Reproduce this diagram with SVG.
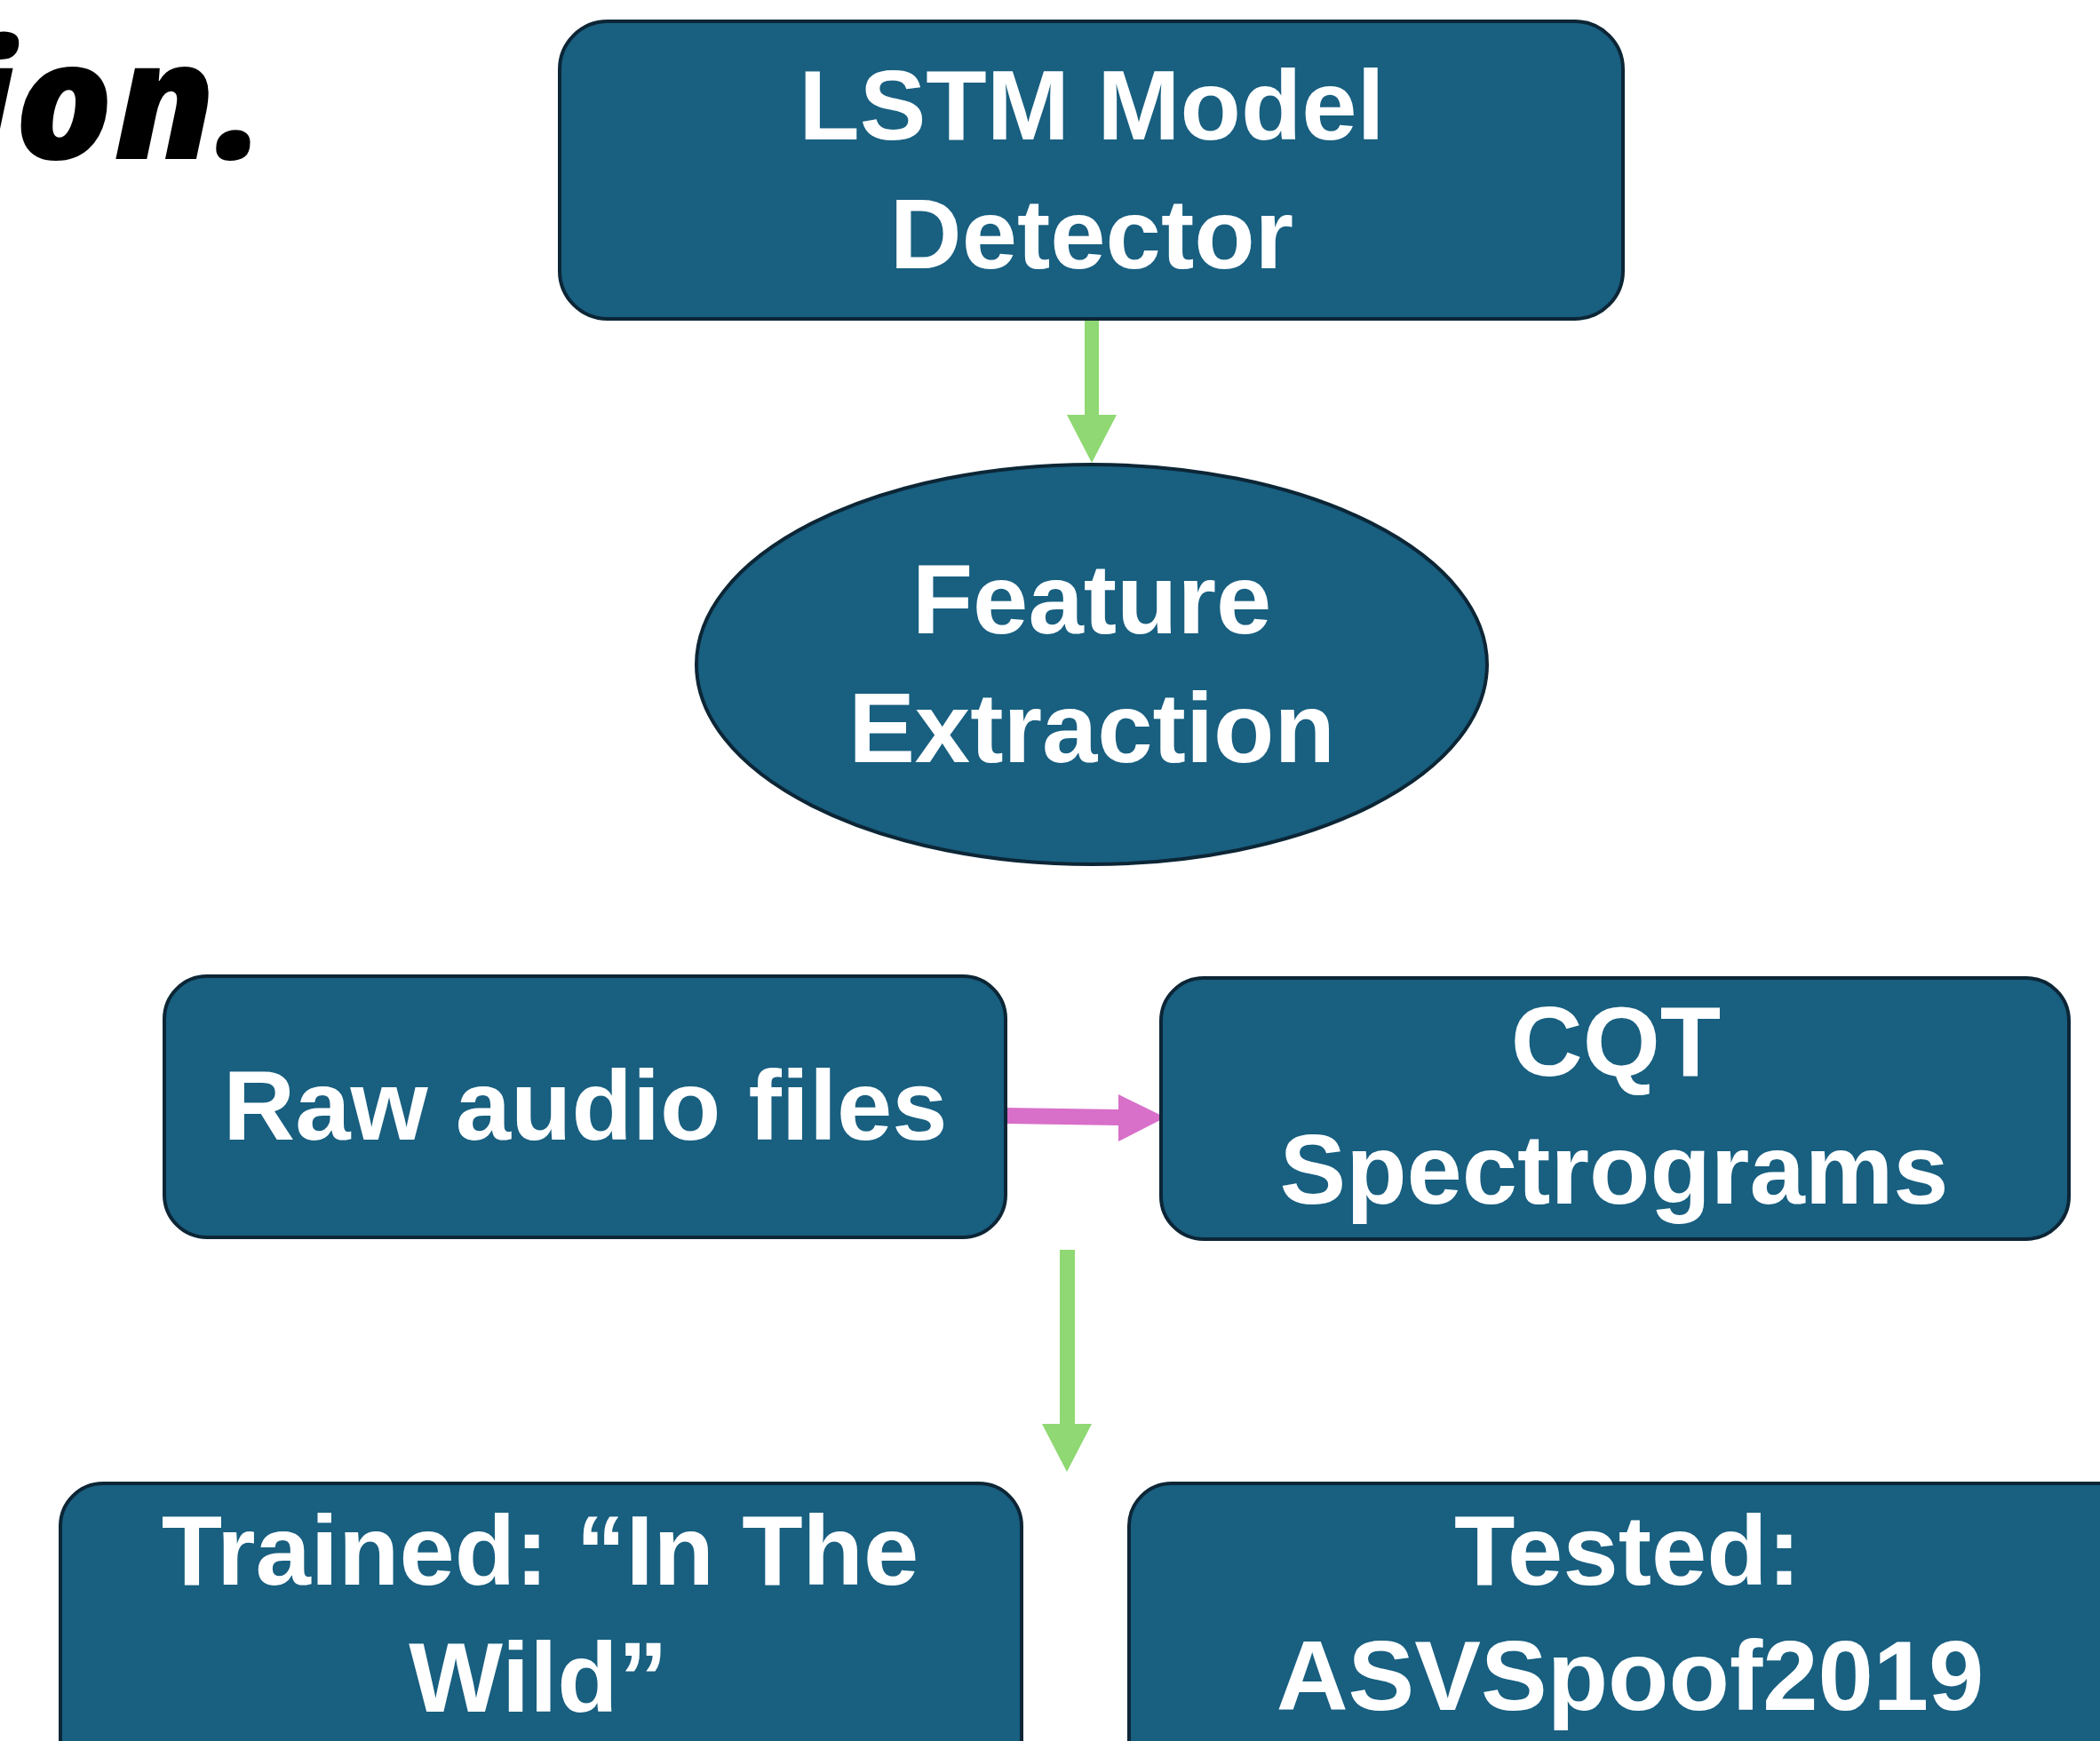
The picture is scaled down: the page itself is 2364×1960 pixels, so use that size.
<svg xmlns="http://www.w3.org/2000/svg" width="2364" height="1960" viewBox="0 0 2364 1960">
<style>
.node{fill:#185f80;stroke:#0c2636;stroke-width:4}
.lbl{font-family:"Liberation Sans",Arial,sans-serif;font-weight:bold;font-size:112px;fill:#ffffff;text-anchor:middle}
.title{font-family:"Open Sans","Liberation Sans",sans-serif;font-weight:800;font-style:italic;font-size:185px;fill:#000000;text-anchor:end}
</style>
<rect width="2364" height="1960" fill="#ffffff"/>
<text class="title" x="300" y="179">ion.</text>
<g id="connectors">
<path d="M1221 359 H1237 V467 H1257 L1229 521 L1201 467 H1221 Z" fill="#8fd873"/>
<path d="M1132 1247 L1259 1249 L1259 1232 L1312 1258 L1259 1285 L1259 1267 L1132 1265 Z" fill="#d86fc9"/>
<path d="M1193 1407 H1210 V1603 H1229 L1201 1657 L1173 1603 H1193 Z" fill="#8fd873"/>
</g>
<g id="lstm">
<rect class="node" x="630" y="24" width="1197" height="335" rx="54"/>
<text class="lbl" x="1229" y="157">LSTM Model</text>
<text class="lbl" x="1229" y="302">Detector</text>
</g>
<g id="feature">
<ellipse class="node" cx="1229" cy="748" rx="445" ry="225"/>
<text class="lbl" x="1229" y="713">Feature</text>
<text class="lbl" x="1229" y="858">Extraction</text>
</g>
<g id="raw">
<rect class="node" x="185" y="1099" width="947" height="294" rx="48"/>
<text class="lbl" x="659" y="1283">Raw audio files</text>
</g>
<g id="cqt">
<rect class="node" x="1307" y="1101" width="1022" height="294" rx="48"/>
<text class="lbl" x="1819" y="1211">CQT</text>
<text class="lbl" x="1817" y="1355">Spectrograms</text>
</g>
<g id="trained">
<rect class="node" x="68" y="1670" width="1082" height="340" rx="48"/>
<text class="lbl" x="608" y="1784">Trained: “In The</text>
<text class="lbl" x="606" y="1927">Wild”</text>
</g>
<g id="tested">
<rect class="node" x="1271" y="1670" width="1140" height="340" rx="48"/>
<text class="lbl" x="1832" y="1784">Tested:</text>
<text class="lbl" x="1835" y="1925">ASVSpoof2019</text>
</g>
</svg>
